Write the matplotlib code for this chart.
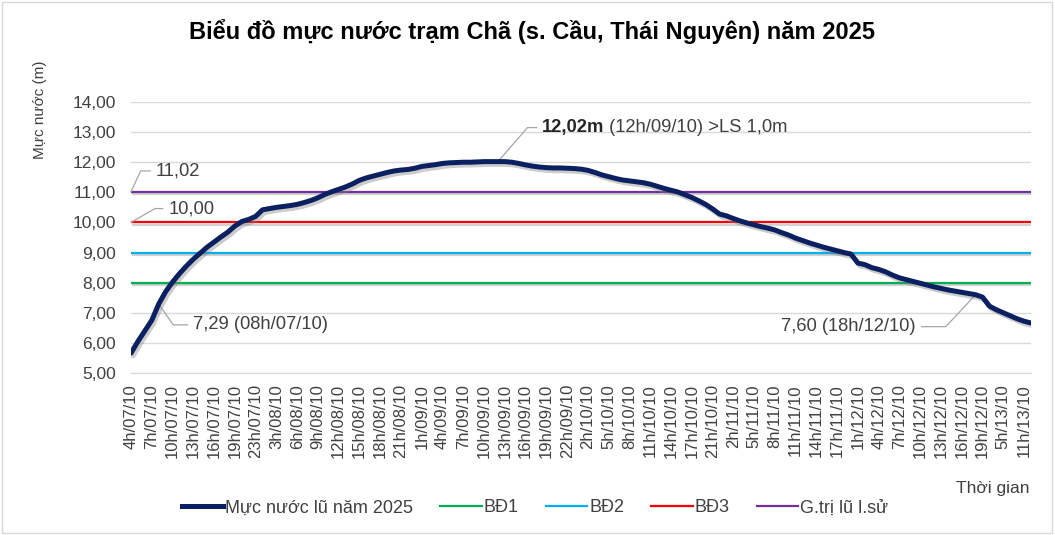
import matplotlib
matplotlib.use('Agg')
import matplotlib.pyplot as plt
import matplotlib.patheffects as pe
from matplotlib.patches import Rectangle
from matplotlib.lines import Line2D

plt.rcParams['font.family'] = ['Liberation Sans', 'DejaVu Sans']

# ---- data ----
days = ['07/10', '08/10', '09/10', '10/10', '11/10', '12/10', '13/10']
hours_by_day = [
    [4, 5, 6, 7, 8, 9, 10, 11, 12, 13, 14, 15, 16, 17, 18, 19, 21, 22, 23],
    [1, 2, 3, 4, 5, 6, 7, 8, 9, 10, 11, 12, 13, 14, 15, 16, 17, 18, 19, 20, 21, 22, 23],
    [1, 2, 3, 4, 5, 6, 7, 8, 9, 10, 11, 12, 13, 14, 15, 16, 17, 18, 19, 20, 21, 22, 23],
    [1, 2, 3, 4, 5, 6, 7, 8, 9, 10, 11, 12, 13, 14, 15, 16, 17, 18, 20, 21, 23],
    [1, 2, 3, 4, 5, 6, 7, 8, 9, 10, 11, 12, 13, 14, 15, 16, 17, 20, 23],
    [1, 2, 3, 4, 5, 6, 7, 8, 9, 10, 11, 12, 13, 14, 15, 16, 17, 18, 19, 22],
    [1, 5, 7, 9, 11, 13],
]
categories = [f"{h}h/{d}" for d, hs in zip(days, hours_by_day) for h in hs]

levels = [
    5.66, 6.05, 6.40, 6.75, 7.29, 7.70, 8.02, 8.30, 8.55, 8.78,
    8.98, 9.18, 9.35, 9.52, 9.68, 9.88, 10.03, 10.10, 10.20, 10.42,
    10.46, 10.50, 10.53, 10.56, 10.60, 10.66, 10.73, 10.82, 10.93, 11.02,
    11.10, 11.18, 11.28, 11.40, 11.48, 11.54, 11.60, 11.66, 11.71, 11.74,
    11.76, 11.80, 11.86, 11.89, 11.92, 11.96, 11.98, 11.99, 12.00, 12.00,
    12.01, 12.02, 12.02, 12.02, 12.02, 12.00, 11.96, 11.91, 11.87, 11.84,
    11.82, 11.81, 11.81, 11.80, 11.79, 11.77, 11.73, 11.66, 11.58, 11.52,
    11.46, 11.41, 11.38, 11.35, 11.32, 11.27, 11.20, 11.13, 11.07, 11.01,
    10.92, 10.83, 10.72, 10.60, 10.45, 10.28, 10.22, 10.13, 10.05, 9.98,
    9.92, 9.86, 9.81, 9.75, 9.66, 9.58, 9.48, 9.40, 9.32, 9.25,
    9.18, 9.12, 9.06, 9.00, 8.95, 8.65, 8.60, 8.50, 8.44, 8.36,
    8.25, 8.16, 8.10, 8.04, 7.98, 7.92, 7.86, 7.81, 7.76, 7.72,
    7.68, 7.64, 7.60, 7.52, 7.22, 7.10, 7.00, 6.90, 6.80, 6.72,
    6.66,
]

bd1 = 8.0
bd2 = 9.0
bd3 = 10.0
hist_max = 11.02

y_ticks = [5, 6, 7, 8, 9, 10, 11, 12, 13, 14]

series_names = ['Mực nước lũ năm 2025', 'BĐ1', 'BĐ2', 'BĐ3', 'G.trị lũ l.sử']

# ---- figure ----
W, H = 1055, 535
fig = plt.figure(figsize=(W / 100, H / 100), dpi=100)
ax = fig.add_axes([131 / W, 1 - 373 / H, 900 / W, 271 / H])

x = list(range(len(categories)))
shadow = [pe.SimpleLineShadow(offset=(1.2, -1.5), shadow_color='#808080', alpha=0.35), pe.Normal()]

ref_lines = [(bd1, '#00B050', series_names[1]),
             (bd2, '#00B0F0', series_names[2]),
             (bd3, '#FF0000', series_names[3]),
             (hist_max, '#7030A0', series_names[4])]
for val, col, name in ref_lines:
    ax.plot(x, [val] * len(x), color=col, lw=1.6, path_effects=shadow, zorder=3)

ax.plot(x, levels, color='#0B2060', lw=3.6, solid_joinstyle='round',
        solid_capstyle='round',
        path_effects=[pe.SimpleLineShadow(offset=(1.5, -2), shadow_color='#808080', alpha=0.4), pe.Normal()],
        zorder=4)

TXT = '#404040'
ax.set_xlim(0, len(categories) - 1)
ax.set_ylim(y_ticks[0], y_ticks[-1])
ax.set_yticks(y_ticks)
ax.set_yticklabels([f"{v:.2f}".replace('.', ',') for v in y_ticks], fontsize=12.5, color=TXT)
ax.set_xticks(x[::3])
ax.set_xticklabels(categories[::3], rotation=90, fontsize=12, color=TXT, va='top', ha='center')
ax.tick_params(axis='both', length=0)
ax.tick_params(axis='y', pad=11)
ax.tick_params(axis='x', pad=8)
ax.grid(axis='y', color='#D9D9D9', lw=1)
ax.set_axisbelow(True)
for s in ['left', 'right', 'top']:
    ax.spines[s].set_visible(False)
ax.spines['bottom'].set_color('#D9D9D9')

# annotations
lead = dict(arrowstyle='-', color='#A6A6A6', lw=0.9, shrinkA=2, shrinkB=0)
fs = 13.2
ax.annotate(f"{hist_max:.2f}".replace('.', ','), xy=(0, hist_max), xytext=(18, 15),
            textcoords='offset points', ha='left', va='center', fontsize=fs, color=TXT,
            arrowprops=dict(lead, relpos=(0, 0.5), connectionstyle='angle,angleA=0,angleB=65,rad=0'))
ax.annotate(f"{bd3:.2f}".replace('.', ','), xy=(0, bd3), xytext=(27, 10),
            textcoords='offset points', ha='left', va='center', fontsize=fs, color=TXT,
            arrowprops=dict(lead, relpos=(0, 0.5), connectionstyle='angle,angleA=0,angleB=30,rad=0'))

i_a = categories.index('8h/07/10')
ax.annotate(f"{levels[i_a]:.2f}".replace('.', ',') + " (08h/07/10)", xy=(i_a, levels[i_a]), xytext=(25, -15),
            textcoords='offset points', ha='left', va='center', fontsize=fs, color=TXT,
            arrowprops=dict(lead, relpos=(0, 0.5), connectionstyle='angle,angleA=0,angleB=-55,rad=0'))

i_p = categories.index('12h/09/10')
peak_txt = ax.annotate(f"{levels[i_p]:.2f}m".replace('.', ','), xy=(i_p, levels[i_p]), xytext=(31.5, 24.5),
                       textcoords='offset points', ha='left', va='center', fontsize=fs, fontweight='bold',
                       color='#262626')
ax.annotate(" (12h/09/10) >LS 1,0m", xy=(1, 0), xycoords=peak_txt, xytext=(0, 0),
            textcoords='offset points', ha='left', va='bottom', fontsize=fs, color=TXT)
ax.annotate('', xy=(i_p, levels[i_p]), xytext=(28, 24.5), textcoords='offset points',
            arrowprops=dict(lead, shrinkA=0, connectionstyle='angle,angleA=0,angleB=49,rad=0'))

i_b = categories.index('18h/12/10')
ax.annotate(f"{levels[i_b]:.2f}".replace('.', ',') + " (18h/12/10)", xy=(i_b, levels[i_b]), xytext=(-43, -23),
            textcoords='offset points', ha='right', va='center', fontsize=fs, color=TXT,
            arrowprops=dict(lead, relpos=(1, 0.5), connectionstyle='angle,angleA=0,angleB=47,rad=0'))

# titles
fig.text(532 / W, 1 - 32 / H, 'Biểu đồ mực nước trạm Chã (s. Cầu, Thái Nguyên) năm 2025',
         ha='center', va='center', fontsize=17, fontweight='bold', color='#000000')
fig.text(40 / W, 1 - 110 / H, 'Mực nước (m)', rotation=90, ha='center', va='center',
         fontsize=11, color=TXT)
fig.text(1029 / W, 1 - 489 / H, 'Thời gian', ha='right', va='center', fontsize=12.5, color=TXT)

# legend
handles = [Line2D([], [], color='#0B2060', lw=3.6),
           Line2D([], [], color='#00B050', lw=1.6),
           Line2D([], [], color='#00B0F0', lw=1.6),
           Line2D([], [], color='#FF0000', lw=1.6),
           Line2D([], [], color='#7030A0', lw=1.6)]
leg = fig.legend(handles, series_names, loc='center', bbox_to_anchor=(535 / W, 1 - 508 / H), ncol=5,
                 frameon=False, fontsize=13, handlelength=2.3, handletextpad=0.1, columnspacing=1.5,
                 labelcolor=TXT)

fig.patches.append(Rectangle((0.002, 0.003), 0.995, 0.993, transform=fig.transFigure, fill=False,
                             edgecolor='#D9D9D9', lw=1))

fig.savefig('out.png', dpi=100, facecolor='white')
